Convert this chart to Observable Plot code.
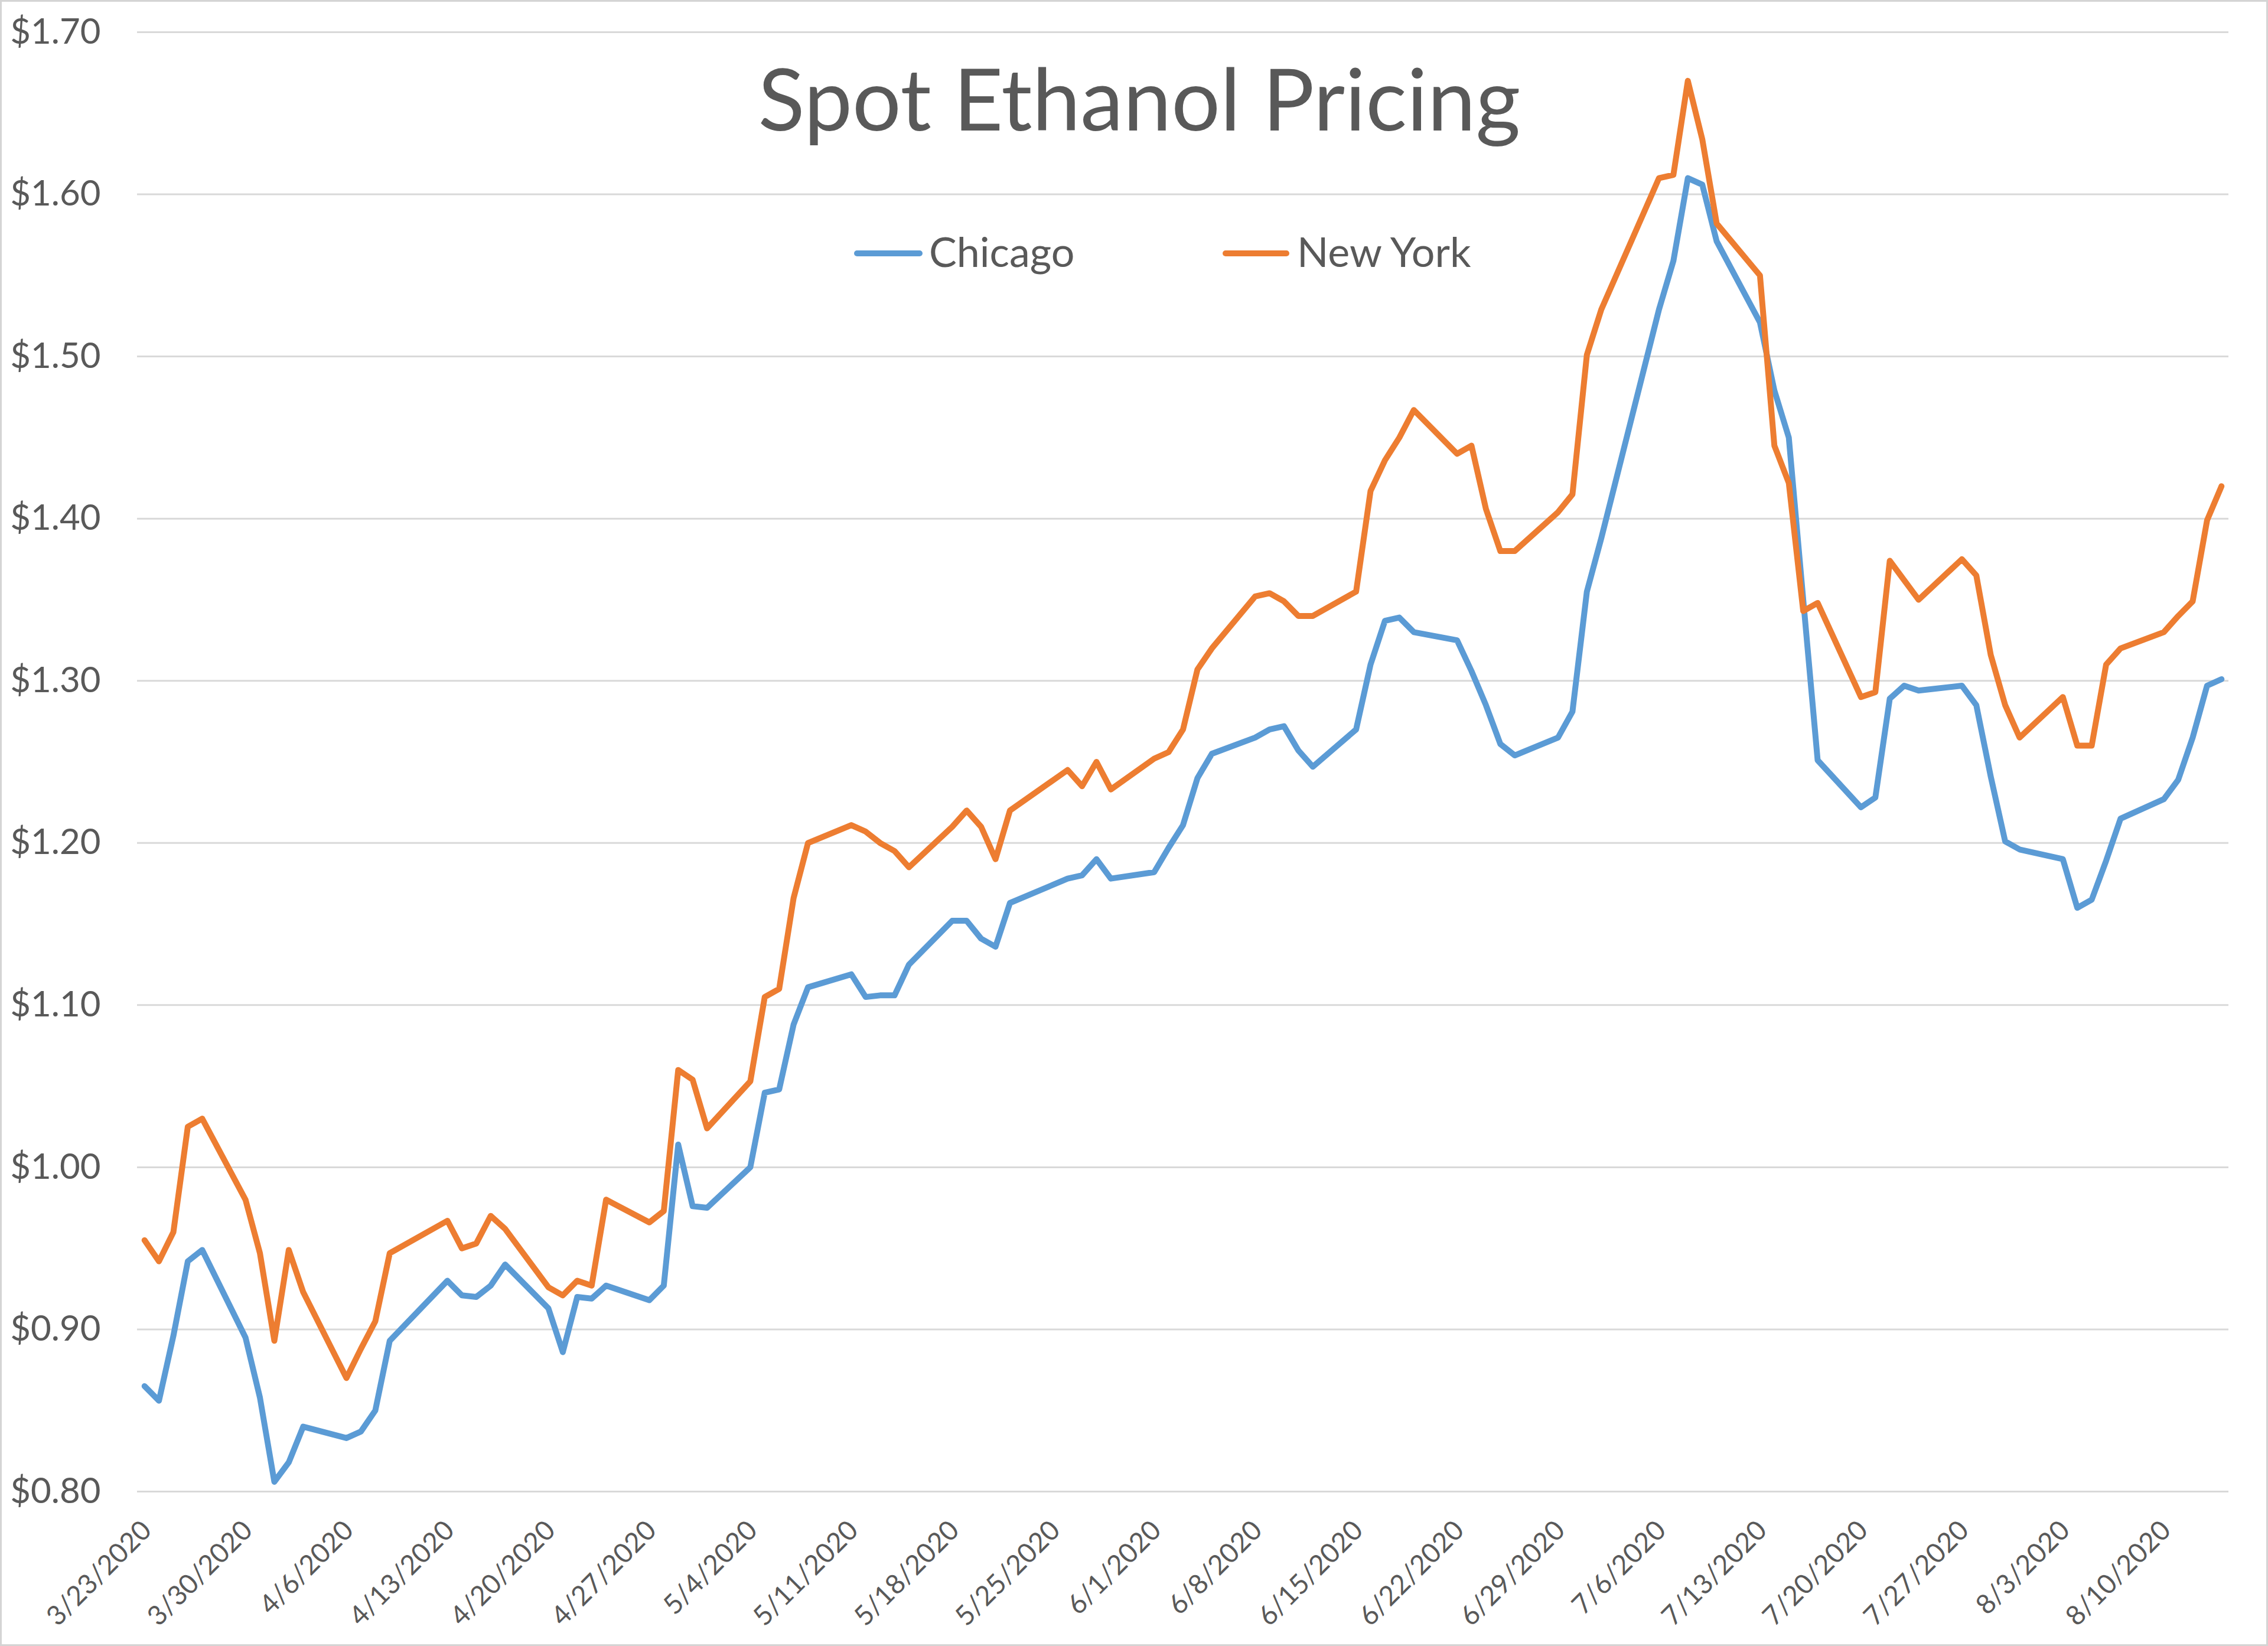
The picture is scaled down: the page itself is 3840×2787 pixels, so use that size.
<!DOCTYPE html>
<html>
<head>
<meta charset="utf-8">
<script src="https://cdn.jsdelivr.net/npm/d3@7"></script>
<script src="https://cdn.jsdelivr.net/npm/@observablehq/plot@0.6"></script>
<style>
  html, body { margin: 0; padding: 0; background: #ffffff; }
  #wrap { position: relative; width: 3840px; height: 2787px; overflow: hidden; font-family: Lato, "Open Sans", sans-serif; }
  #frame { position: absolute; left: 0; top: 0; width: 3834px; height: 2781px; border: 3px solid #D4D4D4; pointer-events: none; }
  #title { position: absolute; top: 92px; left: 1929px; transform: translateX(-50%); font-size: 146px; line-height: 146px; color: #595959; white-space: nowrap; }
  .lg-line { position: absolute; height: 10px; border-radius: 5px; }
  .lg-text { position: absolute; font-size: 70px; line-height: 70px; color: #595959; white-space: nowrap; }
</style>
</head>
<body>
<div id="wrap">
  <div id="chart"></div>
  <div id="title">Spot Ethanol Pricing</div>
  <div class="lg-line" style="left:1446px; top:424px; width:116px; background:#5B9BD5;"></div>
  <div class="lg-text" style="left:1573px; top:390px;">Chicago</div>
  <div class="lg-line" style="left:2070px; top:424px; width:113px; background:#ED7D31;"></div>
  <div class="lg-text" style="left:2196px; top:390px;">New York</div>
  <div id="frame"></div>
</div>
<script>
// ---- data ----
const dates = [
  "2020-03-23","2020-03-24","2020-03-25","2020-03-26","2020-03-27",
  "2020-03-30","2020-03-31","2020-04-01","2020-04-02","2020-04-03",
  "2020-04-06","2020-04-07","2020-04-08","2020-04-09",
  "2020-04-13","2020-04-14","2020-04-15","2020-04-16","2020-04-17",
  "2020-04-20","2020-04-21","2020-04-22","2020-04-23","2020-04-24",
  "2020-04-27","2020-04-28","2020-04-29","2020-04-30","2020-05-01",
  "2020-05-04","2020-05-05","2020-05-06","2020-05-07","2020-05-08",
  "2020-05-11","2020-05-12","2020-05-13","2020-05-14","2020-05-15",
  "2020-05-18","2020-05-19","2020-05-20","2020-05-21","2020-05-22",
  "2020-05-26","2020-05-27","2020-05-28","2020-05-29",
  "2020-06-01","2020-06-02","2020-06-03","2020-06-04","2020-06-05",
  "2020-06-08","2020-06-09","2020-06-10","2020-06-11","2020-06-12",
  "2020-06-15","2020-06-16","2020-06-17","2020-06-18","2020-06-19",
  "2020-06-22","2020-06-23","2020-06-24","2020-06-25","2020-06-26",
  "2020-06-29","2020-06-30","2020-07-01","2020-07-02",
  "2020-07-06","2020-07-07","2020-07-08","2020-07-09","2020-07-10",
  "2020-07-13","2020-07-14","2020-07-15","2020-07-16","2020-07-17",
  "2020-07-20","2020-07-21","2020-07-22","2020-07-23","2020-07-24",
  "2020-07-27","2020-07-28","2020-07-29","2020-07-30","2020-07-31",
  "2020-08-03","2020-08-04","2020-08-05","2020-08-06","2020-08-07",
  "2020-08-10","2020-08-11","2020-08-12","2020-08-13","2020-08-14"
];

const chicago = [
  0.865, 0.856, 0.896, 0.942, 0.949,
  0.895, 0.858, 0.806, 0.818, 0.840,
  0.833, 0.837, 0.850, 0.893,
  0.930, 0.921, 0.920, 0.927, 0.940,
  0.913, 0.886, 0.920, 0.919, 0.927,
  0.918, 0.927, 1.014, 0.976, 0.975,
  1.000, 1.046, 1.048, 1.088, 1.111,
  1.119, 1.105, 1.106, 1.106, 1.125,
  1.152, 1.152, 1.141, 1.136, 1.163,
  1.178, 1.180, 1.190, 1.178,
  1.182, 1.197, 1.211, 1.240, 1.255,
  1.265, 1.270, 1.272, 1.257, 1.247,
  1.270, 1.310, 1.337, 1.339, 1.330,
  1.325, 1.306, 1.285, 1.261, 1.254,
  1.265, 1.281, 1.355, 1.388,
  1.529, 1.559, 1.610, 1.606, 1.571,
  1.521, 1.479, 1.450, 1.350, 1.251,
  1.222, 1.228, 1.289, 1.297, 1.294,
  1.297, 1.285, 1.241, 1.201, 1.196,
  1.190, 1.160, 1.165, 1.189, 1.215,
  1.227, 1.239, 1.265, 1.297, 1.301
];

const newYork = [
  0.955, 0.942, 0.960, 1.025, 1.030,
  0.980, 0.947, 0.893, 0.949, 0.923,
  0.870, 0.888, 0.905, 0.947,
  0.967, 0.950, 0.953, 0.970, 0.962,
  0.926, 0.921, 0.930, 0.927, 0.980,
  0.966, 0.973, 1.060, 1.054, 1.024,
  1.053, 1.105, 1.110, 1.166, 1.200,
  1.211, 1.207, 1.200, 1.195, 1.185,
  1.210, 1.220, 1.210, 1.190, 1.220,
  1.245, 1.235, 1.250, 1.233,
  1.252, 1.256, 1.270, 1.307, 1.320,
  1.352, 1.354, 1.349, 1.340, 1.340,
  1.355, 1.417, 1.436, 1.450, 1.467,
  1.440, 1.445, 1.406, 1.380, 1.380,
  1.404, 1.415, 1.501, 1.529,
  1.610, 1.612, 1.670, 1.634, 1.582,
  1.550, 1.445, 1.422, 1.343, 1.348,
  1.290, 1.293, 1.374, 1.362, 1.350,
  1.375, 1.365, 1.316, 1.285, 1.265,
  1.290, 1.260, 1.260, 1.310, 1.320,
  1.330, 1.340, 1.349, 1.399, 1.420
];

const xTickLabels = [
  "3/23/2020","3/30/2020","4/6/2020","4/13/2020","4/20/2020","4/27/2020",
  "5/4/2020","5/11/2020","5/18/2020","5/25/2020","6/1/2020","6/8/2020",
  "6/15/2020","6/22/2020","6/29/2020","7/6/2020","7/13/2020","7/20/2020",
  "7/27/2020","8/3/2020","8/10/2020"
];
const yTicks = [0.80, 0.90, 1.00, 1.10, 1.20, 1.30, 1.40, 1.50, 1.60, 1.70];

// ---- build table ----
const parseDate = s => new Date(s + "T00:00:00Z");
const parseTick = s => { const [m, d, y] = s.split("/").map(Number); return new Date(Date.UTC(y, m - 1, d)); };
const rowsChicago = dates.map((d, i) => ({date: parseDate(d), value: chicago[i]}));
const rowsNY = dates.map((d, i) => ({date: parseDate(d), value: newYork[i]}));
const ticks = xTickLabels.map(s => ({date: parseTick(s), label: s}));

const halfDay = 12 * 3600 * 1000;
const xMin = new Date(parseDate(dates[0]).getTime() - halfDay);
const xMax = new Date(parseDate(dates[dates.length - 1]).getTime() + halfDay);

const chart = Plot.plot({
  width: 3840,
  height: 2787,
  marginLeft: 232,
  marginRight: 67,
  marginTop: 54,
  marginBottom: 262,
  style: {fontFamily: "Lato, 'Open Sans', sans-serif", background: "transparent", overflow: "visible"},
  x: {type: "utc", domain: [xMin, xMax], axis: null},
  y: {domain: [0.8, 1.7], axis: null},
  marks: [
    Plot.gridY(yTicks, {stroke: "#D9D9D9", strokeOpacity: 1, strokeWidth: 3}),
    Plot.axisY(yTicks, {
      label: null, tickSize: 0, tickPadding: 62, fontSize: 60, color: "#595959",
      tickFormat: d => "$" + d.toFixed(2)
    }),
    Plot.text(ticks, {
      x: "date", text: "label", frameAnchor: "bottom",
      rotate: -45, textAnchor: "end", lineAnchor: "middle",
      dx: 4, dy: 58, fontSize: 46, fill: "#595959"
    }),
    Plot.line(rowsChicago, {x: "date", y: "value", stroke: "#5B9BD5", strokeWidth: 10, strokeLinejoin: "round", strokeLinecap: "round"}),
    Plot.line(rowsNY, {x: "date", y: "value", stroke: "#ED7D31", strokeWidth: 10, strokeLinejoin: "round", strokeLinecap: "round"})
  ]
});
document.getElementById("chart").appendChild(chart);
</script>
</body>
</html>
